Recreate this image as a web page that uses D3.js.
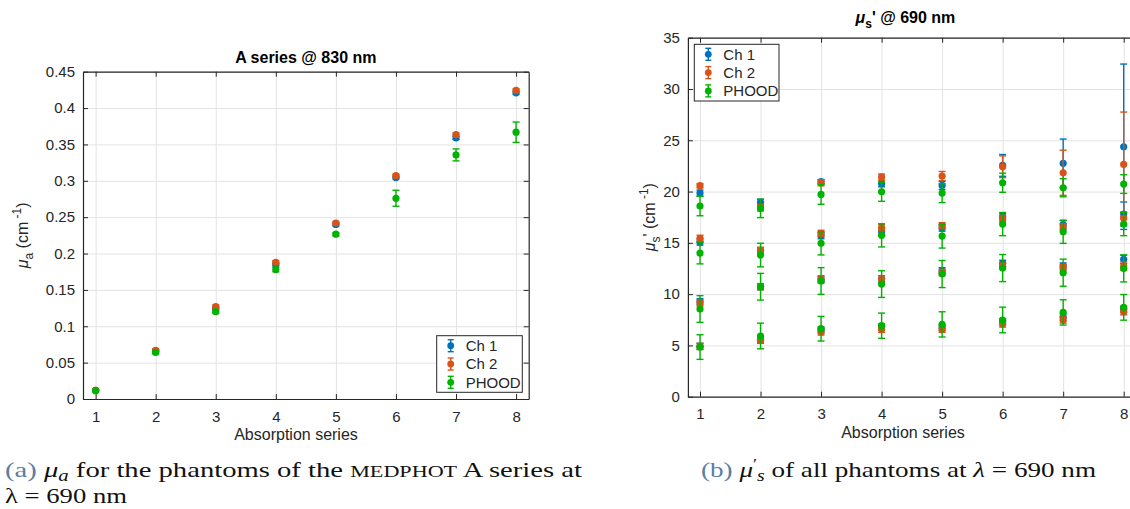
<!DOCTYPE html>
<html>
<head>
<meta charset="utf-8">
<script src="https://cdn.jsdelivr.net/npm/d3@7"></script>
<style>
  body { margin: 0; background: #fff; }
  svg { display: block; }
</style>
</head>
<body>
<div id="chart"></div>
<script>
// Data
const seriesNames = ["Ch 1", "Ch 2", "PHOOD"];
const seriesColors = ["#0072BD", "#D95319", "#00B300"];
const absorption = [1, 2, 3, 4, 5, 6, 7, 8];

// left panel: mu_a at 830 nm
const muaCh1 = [0.012, 0.066, 0.125, 0.185, 0.240, 0.3045, 0.359, 0.421];
const muaCh1Err = [0.001, 0.002, 0.002, 0.002, 0.002, 0.002, 0.002, 0.002];
const muaCh2 = [0.012, 0.067, 0.127, 0.188, 0.242, 0.307, 0.3636, 0.4244];
const muaCh2Err = [0.001, 0.002, 0.002, 0.002, 0.002, 0.002, 0.002, 0.002];
const muaPhood = [0.0115, 0.064, 0.120, 0.178, 0.2266, 0.276, 0.3356, 0.3668];
const muaPhoodErr = [0.001, 0.002, 0.002, 0.003, 0.002, 0.011, 0.0082, 0.014];

// right panel: mu_s' at 690 nm, four scattering levels per absorption step
const musCh1 = [
  [19.85, 18.95, 20.96, 20.76, 20.6, 22.55, 22.75, 24.37],
  [15.08, 14.2, 15.7, 16.08, 16.44, 17.54, 16.77, 17.81],
  [9.26, 10.72, 11.4, 11.5, 12.28, 13.0, 12.74, 13.39],
  [4.91, 5.6, 6.5, 6.8, 6.73, 7.31, 7.74, 8.52]
];
const musCh1Err = [
  [0.3, 0.3, 0.2, 0.3, 0.4, 1.06, 2.37, 8.06],
  [0.3, 0.3, 0.3, 0.3, 0.3, 0.3, 0.4, 1.17],
  [0.3, 0.3, 0.3, 0.3, 0.3, 0.3, 0.3, 0.4],
  [0.3, 0.3, 0.3, 0.3, 0.3, 0.3, 0.3, 0.3]
];
const musCh2 = [
  [20.57, 18.42, 20.86, 21.41, 21.51, 22.42, 21.83, 22.65],
  [15.44, 14.27, 15.92, 16.47, 16.67, 17.39, 16.57, 17.39],
  [9.13, 10.72, 11.5, 11.5, 12.12, 12.74, 12.6, 12.74],
  [4.9, 5.5, 6.31, 6.57, 6.57, 7.09, 7.48, 8.28]
];
const musCh2Err = [
  [0.2, 0.3, 0.3, 0.3, 0.45, 1.06, 2.2, 5.1],
  [0.3, 0.3, 0.3, 0.3, 0.3, 0.3, 0.3, 0.6],
  [0.3, 0.3, 0.3, 0.3, 0.3, 0.3, 0.3, 0.4],
  [0.3, 0.3, 0.3, 0.3, 0.3, 0.3, 0.3, 0.3]
];
const musPhood = [
  [18.59, 18.36, 19.72, 19.98, 19.85, 20.86, 20.37, 20.73],
  [14.0, 13.81, 14.95, 15.73, 15.66, 16.83, 16.08, 16.83],
  [8.55, 10.72, 11.28, 10.98, 11.96, 12.54, 12.09, 12.51],
  [4.84, 5.92, 6.63, 6.92, 7.05, 7.48, 8.22, 8.71]
];
const musPhoodErr = [
  [0.95, 0.9, 0.96, 0.93, 0.93, 0.93, 0.88, 0.91],
  [1.05, 1.15, 1.13, 1.13, 1.17, 1.13, 1.13, 1.13],
  [1.3, 1.3, 1.3, 1.3, 1.32, 1.32, 1.32, 1.32],
  [1.2, 1.25, 1.2, 1.23, 1.23, 1.25, 1.23, 1.25]
];

const muaTicks = [0, 0.05, 0.1, 0.15, 0.2, 0.25, 0.3, 0.35, 0.4, 0.45];
const musTicks = [0, 5, 10, 15, 20, 25, 30, 35];

const svg = d3.select("#chart")
  .append("svg")
  .attr("width", 1130)
  .attr("height", 509)
  .style("font-family", "'Liberation Sans', Arial, sans-serif");

const axisColor = "#262626";
const gridColor = "#e3e3e3";

// build point list for one series (rows = levels)
function toPoints(rows, errs) {
  const pts = [];
  rows.forEach((row, r) => {
    row.forEach((v, i) => pts.push({ x: absorption[i], y: v, e: errs[r][i] }));
  });
  return pts;
}

function drawPanel(p) {
  const x = d3.scaleLinear().domain(p.xDomain).range(p.xRange);
  const y = d3.scaleLinear().domain(p.yDomain).range(p.yRange);
  const g = svg.append("g");
  const [x0, x1] = p.xRange;
  const [yb, yt] = p.yRange;

  // grid
  g.append("g")
    .attr("transform", `translate(0,${yb})`)
    .call(d3.axisBottom(x).tickValues(absorption).tickSize(-(yb - yt)).tickFormat(""))
    .call((s) => s.select(".domain").remove())
    .selectAll("line").attr("stroke", gridColor);
  g.append("g")
    .attr("transform", `translate(${x0},0)`)
    .call(d3.axisLeft(y).tickValues(p.yTicks).tickSize(-(x1 - x0)).tickFormat(""))
    .call((s) => s.select(".domain").remove())
    .selectAll("line").attr("stroke", gridColor);

  // axes with inward ticks on all four sides
  const bottom = g.append("g")
    .attr("transform", `translate(0,${yb})`)
    .call(d3.axisBottom(x).tickValues(absorption).tickSizeInner(-5).tickSizeOuter(0).tickPadding(12));
  const top = g.append("g")
    .attr("transform", `translate(0,${yt})`)
    .call(d3.axisTop(x).tickValues(absorption).tickSizeInner(-5).tickSizeOuter(0).tickFormat(""));
  const left = g.append("g")
    .attr("transform", `translate(${x0},0)`)
    .call(d3.axisLeft(y).tickValues(p.yTicks).tickSizeInner(-5).tickSizeOuter(0).tickPadding(8)
      .tickFormat((d) => String(+d.toFixed(2))));
  const right = g.append("g")
    .attr("transform", `translate(${x1},0)`)
    .call(d3.axisRight(y).tickValues(p.yTicks).tickSizeInner(-5).tickSizeOuter(0).tickFormat(""));
  [bottom, top, left, right].forEach((a) => {
    a.select(".domain").attr("stroke", axisColor).attr("stroke-width", 1.2);
    a.selectAll("line").attr("stroke", axisColor);
    a.selectAll("text").attr("fill", axisColor).style("font-size", "15px").style("font-family", "inherit");
  });

  // error bars + markers
  p.series.forEach((s, k) => {
    const c = seriesColors[k];
    const sg = g.append("g");
    const pts = s.points;
    sg.selectAll(".eb").data(pts).enter().append("line")
      .attr("x1", (d) => x(d.x)).attr("x2", (d) => x(d.x))
      .attr("y1", (d) => y(d.y - d.e)).attr("y2", (d) => y(d.y + d.e))
      .attr("stroke", c).attr("stroke-width", 1.4);
    ["lo", "hi"].forEach((side) => {
      sg.selectAll(".cap" + side).data(pts).enter().append("line")
        .attr("x1", (d) => x(d.x) - 3.5).attr("x2", (d) => x(d.x) + 3.5)
        .attr("y1", (d) => y(side === "lo" ? d.y - d.e : d.y + d.e))
        .attr("y2", (d) => y(side === "lo" ? d.y - d.e : d.y + d.e))
        .attr("stroke", c).attr("stroke-width", 1.4);
    });
    sg.selectAll("circle").data(pts).enter().append("circle")
      .attr("cx", (d) => x(d.x)).attr("cy", (d) => y(d.y))
      .attr("r", 3.6).attr("fill", c);
  });

  // title
  const t = g.append("text")
    .attr("x", (x0 + Math.min(x1, 1129)) / 2 + p.titleDx)
    .attr("y", p.titleY)
    .attr("text-anchor", "middle")
    .attr("fill", "#000")
    .style("font-size", "16px").style("font-weight", "bold");
  p.title(t);

  // x label
  g.append("text")
    .attr("x", p.xLabelX).attr("y", p.xLabelY)
    .attr("text-anchor", "middle").attr("fill", axisColor)
    .style("font-size", "16px")
    .text("Absorption series");

  // y label
  const yl = g.append("text")
    .attr("transform", `translate(${p.yLabelX},${(yb + yt) / 2}) rotate(-90)`)
    .attr("text-anchor", "middle").attr("fill", axisColor)
    .style("font-size", "16px");
  p.yLabel(yl);

  // legend
  const L = p.legend;
  const lg = g.append("g").attr("transform", `translate(${L.x},${L.y})`);
  lg.append("rect").attr("width", L.w).attr("height", L.h)
    .attr("fill", "#fff").attr("stroke", axisColor).attr("stroke-width", 1);
  seriesNames.forEach((name, k) => {
    const cy = 10 + k * 18.3;
    const c = seriesColors[k];
    const ix = 14;
    lg.append("line").attr("x1", ix).attr("x2", ix).attr("y1", cy - 6).attr("y2", cy + 6)
      .attr("stroke", c).attr("stroke-width", 1.4);
    [-6, 6].forEach((dy) => lg.append("line")
      .attr("x1", ix - 3).attr("x2", ix + 3).attr("y1", cy + dy).attr("y2", cy + dy)
      .attr("stroke", c).attr("stroke-width", 1.4));
    lg.append("circle").attr("cx", ix).attr("cy", cy).attr("r", 3.4).attr("fill", c);
    lg.append("text").attr("x", 29).attr("y", cy + 5.5)
      .attr("fill", axisColor).style("font-size", "15px").text(name);
  });
}

// left: mu_a
drawPanel({
  xDomain: [0.79, 8.21], xRange: [83, 528.7],
  yDomain: [0, 0.45], yRange: [399, 71.7],
  yTicks: muaTicks,
  series: [
    { points: toPoints([muaCh1], [muaCh1Err]) },
    { points: toPoints([muaCh2], [muaCh2Err]) },
    { points: toPoints([muaPhood], [muaPhoodErr]) }
  ],
  titleY: 63, titleDx: 0,
  title: (t) => t.text("A series @ 830 nm"),
  xLabelX: 296, xLabelY: 440,
  yLabelX: 28,
  yLabel: (t) => {
    t.append("tspan").style("font-style", "italic").text("μ");
    t.append("tspan").attr("dy", 5).style("font-size", "12px").text("a");
    t.append("tspan").attr("dy", -5).text(" (cm");
    t.append("tspan").attr("dy", -7).style("font-size", "12px").text(" -1");
    t.append("tspan").attr("dy", 7).text(")");
  },
  legend: { x: 436.7, y: 335.7, w: 85.6, h: 56.6 }
});

// right: mu_s'
drawPanel({
  xDomain: [0.8, 8.2], xRange: [687.9, 1135.8],
  yDomain: [0, 35], yRange: [396.7, 37.7],
  yTicks: musTicks,
  series: [
    { points: toPoints(musCh1, musCh1Err) },
    { points: toPoints(musCh2, musCh2Err) },
    { points: toPoints(musPhood, musPhoodErr) }
  ],
  titleY: 23, titleDx: -3,
  title: (t) => {
    t.append("tspan").style("font-style", "italic").text("μ");
    t.append("tspan").attr("dy", 5).style("font-size", "12px").text("s");
    t.append("tspan").attr("dy", -5).text("' @ 690 nm");
  },
  xLabelX: 903, xLabelY: 438,
  yLabelX: 655,
  yLabel: (t) => {
    t.append("tspan").style("font-style", "italic").text("μ");
    t.append("tspan").attr("dy", 5).style("font-size", "12px").text("s");
    t.append("tspan").attr("dy", -5).text("' (cm");
    t.append("tspan").attr("dy", -7).style("font-size", "12px").text(" -1");
    t.append("tspan").attr("dy", 7).text(")");
  },
  legend: { x: 694.3, y: 44.3, w: 84.7, h: 56.7 }
});

// captions
const capFont = "'Liberation Serif', 'Times New Roman', serif";
const capColor = "#5a7ea5";
const capA = svg.append("text").attr("x", 5).attr("y", 477)
  .style("font-family", capFont).style("font-size", "22px").attr("fill", "#111")
  .attr("textLength", 577).attr("lengthAdjust", "spacingAndGlyphs");
capA.append("tspan").attr("fill", capColor).text("(a) ");
capA.append("tspan").style("font-style", "italic").text("μ");
capA.append("tspan").attr("dy", 4).style("font-style", "italic").style("font-size", "16px").text("a");
capA.append("tspan").attr("dy", -4).text(" for the phantoms of the ");
capA.append("tspan").style("font-size", "17px").text("MEDPHOT");
capA.append("tspan").text(" A series at");

svg.append("text").attr("x", 5).attr("y", 503)
  .style("font-family", capFont).style("font-size", "22px").attr("fill", "#111")
  .attr("textLength", 122).attr("lengthAdjust", "spacingAndGlyphs")
  .text("λ = 690 nm");

const capB = svg.append("text").attr("x", 701).attr("y", 477)
  .style("font-family", capFont).style("font-size", "22px").attr("fill", "#111")
  .attr("textLength", 395).attr("lengthAdjust", "spacingAndGlyphs");
capB.append("tspan").attr("fill", capColor).text("(b) ");
capB.append("tspan").style("font-style", "italic").text("μ");
capB.append("tspan").attr("dy", -8).style("font-size", "15px").text("′");
capB.append("tspan").attr("dy", 12).style("font-style", "italic").style("font-size", "16px").text("s");
capB.append("tspan").attr("dy", -4).text(" of all phantoms at ");
capB.append("tspan").style("font-style", "italic").text("λ");
capB.append("tspan").text(" = 690 nm");
</script>
</body>
</html>
